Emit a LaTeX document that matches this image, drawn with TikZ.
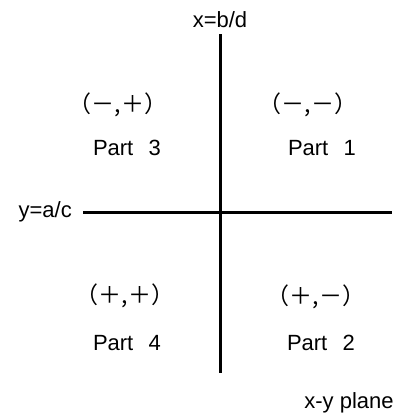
\documentclass[tikz,border=0pt]{standalone}
\usepackage{fontspec}
\setmainfont{Liberation Sans}
\newfontfamily\cjkfont{Noto Sans CJK SC}

\begin{document}
\begin{tikzpicture}[x=1pt, y=-1pt, every node/.style={font=\fontsize{22}{26}\selectfont, inner sep=1pt}]
	\useasboundingbox (0,0) rectangle (400,414);
	% axes
	\node[anchor=base] (xlab) at (220,28) {x=b/d};
	\node[anchor=east] (ylab) at (73,212) {y=a/c};
	\coordinate (xend) at (220,373);
	\coordinate (yend) at (392,212);
	\draw[line width=3pt] ([yshift=-5pt]xlab.south) -- (xend);
	\draw[line width=3pt] ([xshift=10pt]ylab.east) -- (yend);
	% the four parts
	\foreach \n/\s/\x/\y/\px/\py in {1/{（－,－）}/308/105/322/148, 3/{（－,＋）}/118/105/127/148, 4/{（＋,＋）}/125/296/127/343, 2/{（＋,－）}/316/297/321/343} {
		\node[font=\cjkfont\fontsize{23}{26}\selectfont] (sign\n) at (\x,\y) {\s};
		\node (part\n) at (\px,\py) {Part\hspace{0.7em}\n};
	}
	\node (plane) at (349,403) {x-y plane};
\end{tikzpicture}
\end{document}
